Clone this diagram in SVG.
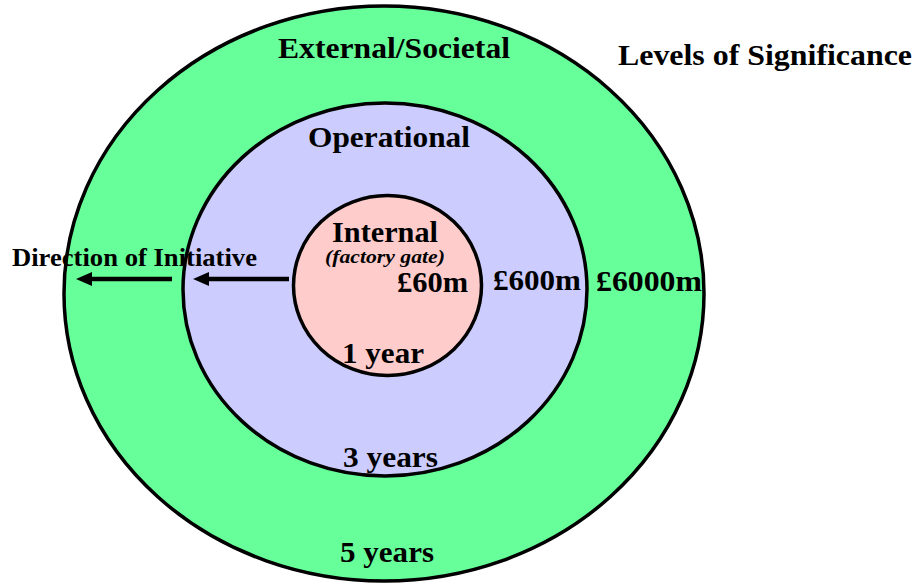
<svg xmlns="http://www.w3.org/2000/svg" width="918" height="585" viewBox="0 0 918 585">
<defs>
<style>
.ring{stroke:#000;stroke-width:3.5}
text{font-family:'Liberation Serif',Tinos,'Times New Roman',Times,serif;font-weight:700;font-size:30px;fill:#000}
.s{font-size:25px}
.i{font-style:italic;font-size:18px}
.arr{stroke:#000;stroke-width:4.5;fill:none}
</style>
</defs>
<rect width="918" height="585" fill="#fff"/>
<g id="outer">
<ellipse class="ring" cx="384" cy="293.5" rx="320" ry="287.5" fill="#66FF99"/>
<text x="278" y="58" textLength="232" lengthAdjust="spacingAndGlyphs">External/Societal</text>
<text x="596" y="291" textLength="106" lengthAdjust="spacingAndGlyphs">£6000m</text>
<text x="340" y="562" textLength="94" lengthAdjust="spacingAndGlyphs">5 years</text>
</g>
<g id="middle">
<ellipse class="ring" cx="385" cy="289.5" rx="202" ry="186.5" fill="#CCCCFF"/>
<text x="308" y="147" textLength="162" lengthAdjust="spacingAndGlyphs">Operational</text>
<text x="493" y="290" textLength="88" lengthAdjust="spacingAndGlyphs">£600m</text>
<text x="343" y="467" textLength="95" lengthAdjust="spacingAndGlyphs">3 years</text>
</g>
<g id="inner">
<ellipse class="ring" cx="387.5" cy="285.5" rx="94" ry="90" fill="#FFCCCC"/>
<text x="332" y="242" textLength="106" lengthAdjust="spacingAndGlyphs">Internal</text>
<text class="i" x="325" y="263" textLength="120" lengthAdjust="spacingAndGlyphs">(factory gate)</text>
<text x="397" y="292" textLength="71" lengthAdjust="spacingAndGlyphs">£60m</text>
<text x="342" y="363" textLength="82" lengthAdjust="spacingAndGlyphs">1 year</text>
</g>
<g id="title">
<text x="618" y="65" textLength="294" lengthAdjust="spacingAndGlyphs">Levels of Significance</text>
</g>
<g id="direction-label">
<text class="s" x="12" y="266" textLength="245" lengthAdjust="spacingAndGlyphs">Direction of Initiative</text>
</g>
<g id="connectors">
<line class="arr" x1="172" y1="279" x2="90" y2="279"/>
<polygon points="76,279 92,272 92,286" fill="#000"/>
<line class="arr" x1="289" y1="279" x2="207" y2="279"/>
<polygon points="193,279 209,272 209,286" fill="#000"/>
</g>
</svg>
